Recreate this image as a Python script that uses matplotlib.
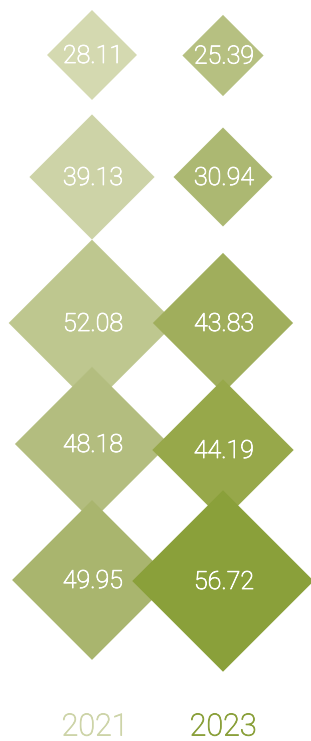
import matplotlib.pyplot as plt
import matplotlib.patheffects as pe
import numpy as np

years = ["2021", "2023"]
values_2021 = [28.11, 39.13, 52.08, 48.18, 49.95]
values_2023 = [25.39, 30.94, 43.83, 44.19, 56.72]
colors_2021 = ["#d4d9b0", "#cdd3a7", "#bec78f", "#b3bd7f", "#a9b56e"]
colors_2023 = ["#b6c081", "#acb872", "#a0ae5c", "#97a84a", "#8aa03a"]
year_colors = ["#cdd4a8", "#8aa03a"]

# layout (pixel-like data units)
col_x = [92, 223]
row_y_2021 = [55, 177, 323, 444, 580]
row_y_2023 = [55.5, 177, 323, 450, 581]
scale = 1.6  # half diagonal per unit value

fig = plt.figure(figsize=(3.11, 7.41), dpi=100)
ax = fig.add_axes([0, 0, 1, 1])
ax.set_xlim(0, 311)
ax.set_ylim(741, 0)
ax.axis("off")

cols = [
    (values_2021, colors_2021, row_y_2021),
    (values_2023, colors_2023, row_y_2023),
]

z = 1
for r in range(5):
    for c, (vals, cols_, ys) in enumerate(cols):
        v = vals[r]
        h = v * scale
        x0, y0 = col_x[c], ys[r]
        ax.fill([x0 - h, x0, x0 + h, x0], [y0, y0 - h, y0, y0 + h],
                color=cols_[r], lw=0, zorder=z)
        z += 1

for c, (vals, cols_, ys) in enumerate(cols):
    for r, v in enumerate(vals):
        ax.text(col_x[c] + 1, ys[r] + 1, f"{v:.2f}", ha="center", va="center",
                color="white", fontsize=18, zorder=50,
                family=["Roboto", "DejaVu Sans"], fontweight="light",
                path_effects=[pe.withStroke(linewidth=0.6, foreground="white")])
    ax.text(col_x[c] + (3 if c == 0 else 0), 727, years[c], ha="center",
            va="center", color=year_colors[c], fontsize=22,
            family=["Roboto", "DejaVu Sans"], fontweight="light",
            path_effects=[pe.withStroke(linewidth=0.6, foreground=year_colors[c])])

fig.savefig("out.png", dpi=100)
